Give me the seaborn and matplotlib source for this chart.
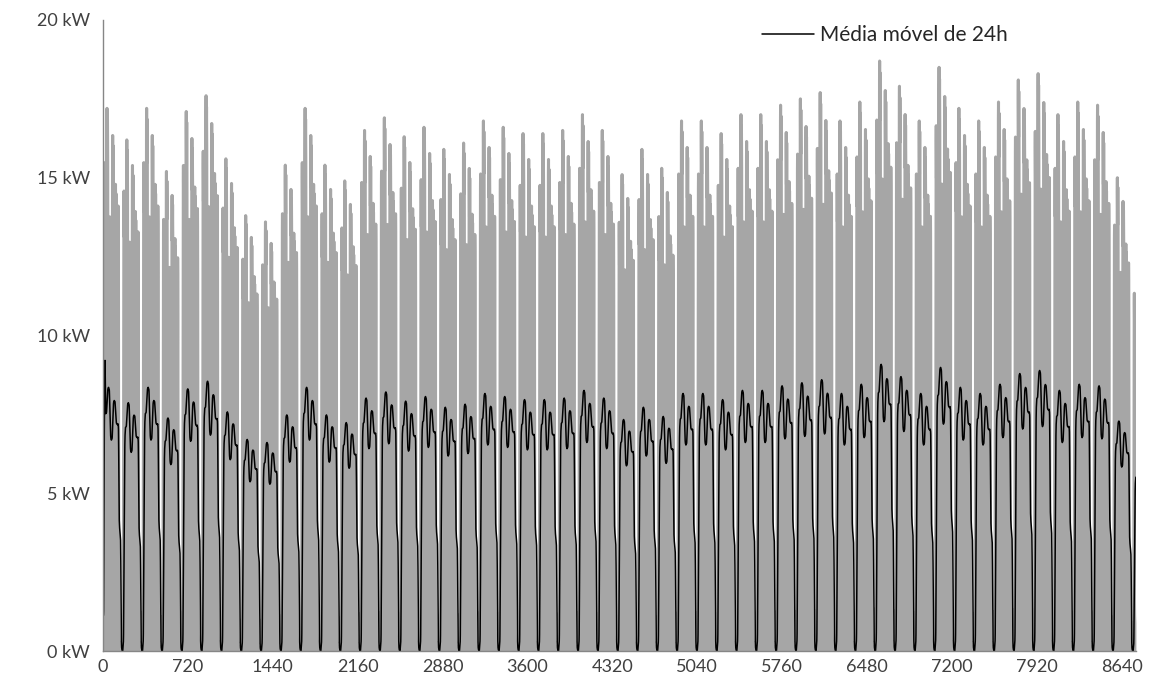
import numpy as np
import pandas as pd
import seaborn as sns
import matplotlib.pyplot as plt

# pico semanal da carga (kW): semana 0..52 (a última só tem 1 dia, segunda-feira)
weekly_peak = [17.2, 16.2, 17.2, 15.2, 17.1, 17.6, 15.6, 13.8, 13.6, 15.4,
               17.2, 15.4, 14.9, 16.5, 16.9, 16.3, 16.6, 15.9, 16.1, 16.8,
               16.6, 16.4, 16.4, 16.5, 17.0, 16.5, 15.1, 15.9, 15.3, 16.8,
               16.8, 16.4, 17.0, 17.0, 17.3, 17.5, 17.7, 16.8, 17.4, 18.7,
               17.9, 16.8, 18.5, 17.2, 16.8, 17.4, 18.1, 18.3, 17.0, 17.4,
               17.3, 15.0, 12.6]

# fator de cada dia da semana (seg..sáb), domingo sem carga
day_factor = [0.90, 1.0, 0.80, 0.95, 0.86, 0.82, 0.0]

# perfil horário típico de dia útil (fração do pico diário)
weekday_profile = [0.08, 0.07, 0.07, 0.07, 0.08, 0.12,
                   0.35, 0.70, 0.92, 0.97, 1.00, 0.96,
                   0.90, 0.94, 0.98, 0.95, 0.90, 0.65,
                   0.35, 0.20, 0.13, 0.10, 0.09, 0.08]

# sábado: só de manhã
saturday_profile = [0.08, 0.07, 0.07, 0.07, 0.08, 0.12,
                    0.40, 0.75, 0.92, 1.00, 0.96, 0.85,
                    0.55, 0.25, 0.10, 0.06, 0.04, 0.03,
                    0.02, 0.02, 0.01, 0.01, 0.0, 0.0]

n_hours = 8760
xticks = np.arange(0, 8641, 720)
yticks = [0, 5, 10, 15, 20]

# série horária a partir dos valores lidos
profiles = np.array([weekday_profile] * 5 + [saturday_profile, weekday_profile])
week_shape = (np.array(day_factor)[:, None] * profiles).ravel()
load = np.outer(weekly_peak, week_shape).ravel()[:n_hours]

df = pd.DataFrame({"hora": np.arange(n_hours), "carga": load})
df["media_24h"] = df["carga"].rolling(24, min_periods=1).mean()

sns.set_style("white")
plt.rcParams["font.family"] = ["Lato", "DejaVu Sans"]

fig = plt.figure(figsize=(11.56, 7.0), dpi=100)
ax = fig.add_axes([103 / 1156, 49 / 700, 1033 / 1156, 631 / 700])

grey = "#a6a6a6"
ax.fill_between(df["hora"], 0, df["carga"], color=grey, linewidth=0)
sns.lineplot(data=df, x="hora", y="carga", color=grey, linewidth=2.2, ax=ax, legend=False)
sns.lineplot(data=df, x="hora", y="media_24h", color="black", linewidth=1.1, ax=ax,
             label="Média móvel de 24h")

ax.set_xlim(0, n_hours)
ax.set_ylim(0, 20)
ax.set_xticks(xticks)
ax.set_xticklabels([str(t) for t in xticks])
ax.set_yticks(yticks)
ax.set_yticklabels([f"{t} kW" for t in yticks])
ax.set_xlabel("")
ax.set_ylabel("")

for side in ["top", "right"]:
    ax.spines[side].set_visible(False)
for side in ["left", "bottom"]:
    ax.spines[side].set_color("#868686")
    ax.spines[side].set_linewidth(1.0)

ax.tick_params(axis="both", colors="#868686", labelcolor="#404040", labelsize=13,
               direction="out", length=4.5, width=1.0)
ax.tick_params(axis="y", pad=5)
ax.tick_params(axis="x", pad=1.5)

ax.legend(loc="upper left", bbox_to_anchor=(0.638, 0.992), frameon=False,
          fontsize=15, handlelength=2.5, handletextpad=0.3,
          borderpad=0, borderaxespad=0, labelcolor="#262626")

plt.savefig("out.png", dpi=100)
